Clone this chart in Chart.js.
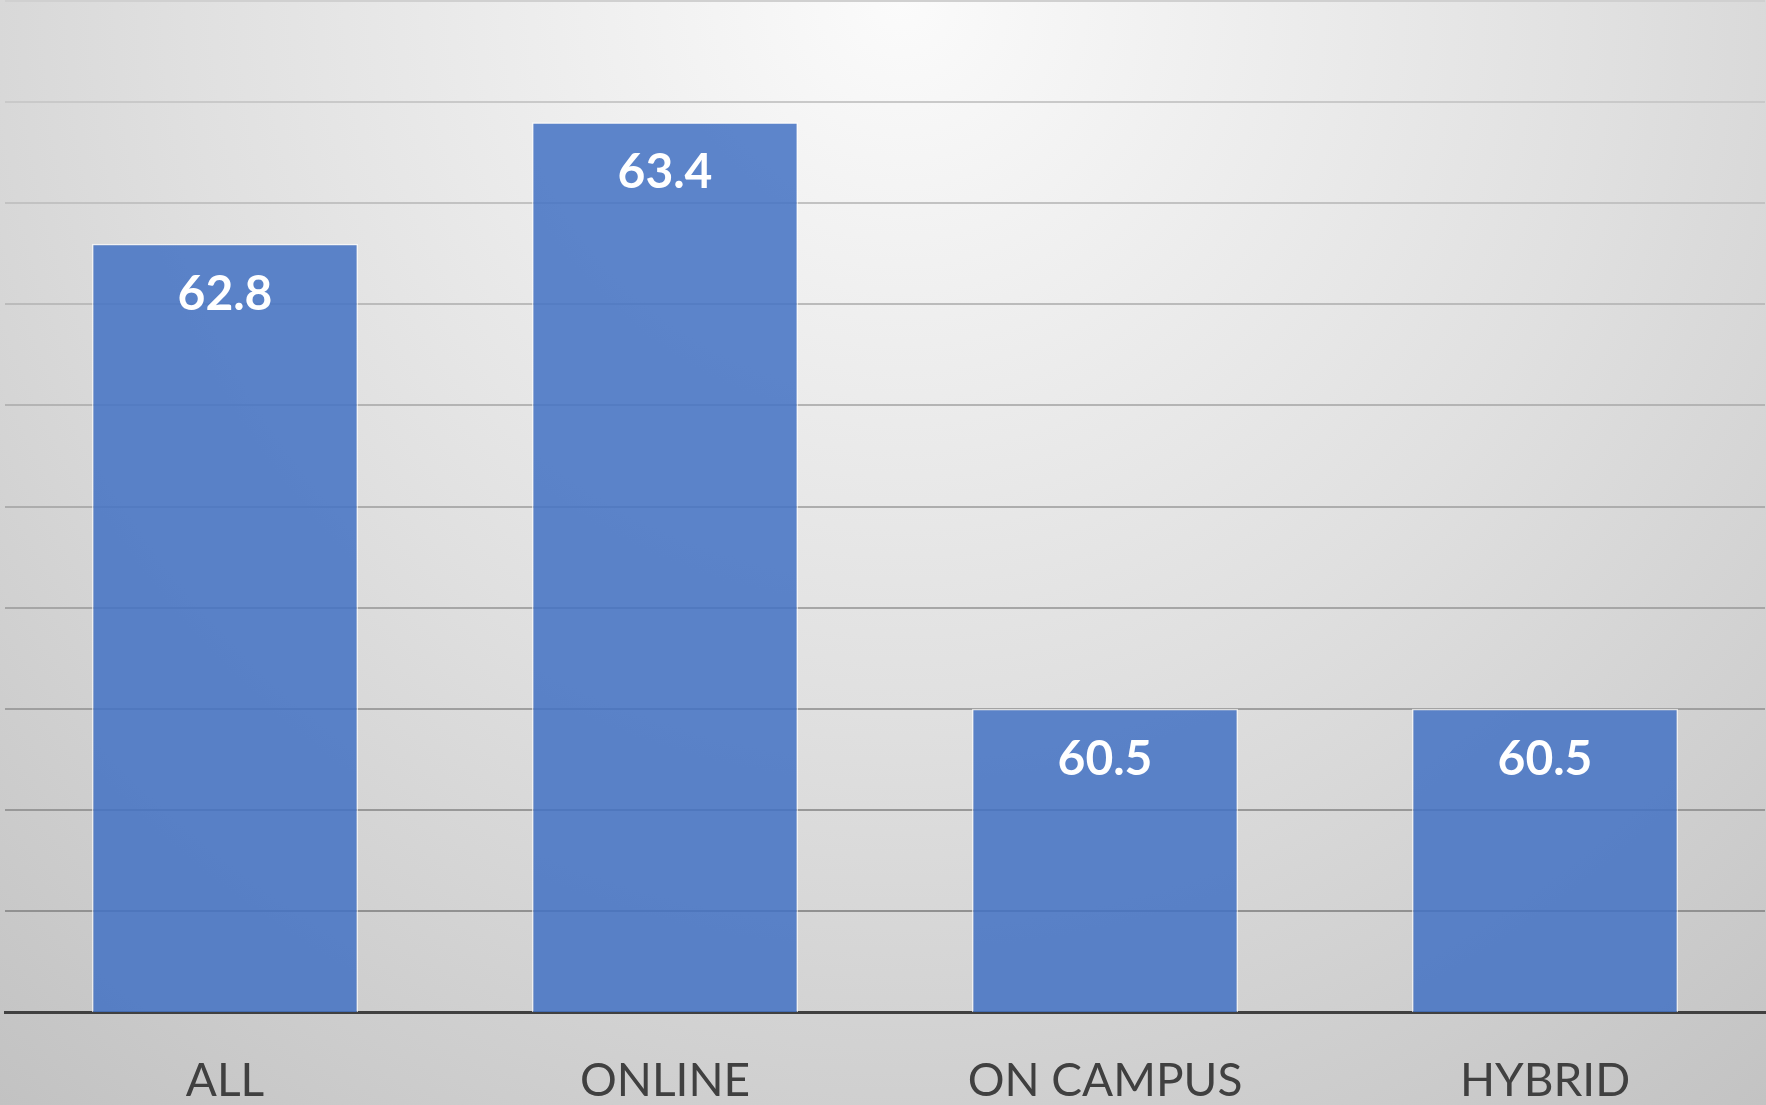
<!DOCTYPE html>
<html>
<head>
<meta charset="utf-8">
<script src="https://cdn.jsdelivr.net/npm/chart.js@4.4.1/dist/chart.umd.min.js"></script>
<style>
  html, body { margin: 0; padding: 0; }
  body {
    width: 1766px; height: 1105px; overflow: hidden;
    background: radial-gradient(circle farthest-corner at 51% 0%, #fbfbfb 0%, #e0e0e0 50%, #c2c2c2 100%);
  }
  #wrap { position: relative; width: 1766px; height: 1105px; }
</style>
</head>
<body>
<div id="wrap"><canvas id="barChart"></canvas></div>
<script>
// chart values
const categories = ["ALL", "ONLINE", "ON CAMPUS", "HYBRID"];
const scores = [62.8, 63.4, 60.5, 60.5];
const yMin = 59;
const yMax = 64;
const yStep = 0.5;

// white value labels just inside the top of each bar
const valueLabels = {
  id: 'valueLabels',
  afterDatasetsDraw(chart) {
    const { ctx } = chart;
    const meta = chart.getDatasetMeta(0);
    ctx.save();
    ctx.font = "bold 48px Lato";
    ctx.fillStyle = "#FFFFFF";
    ctx.textAlign = "center";
    ctx.textBaseline = "alphabetic";
    meta.data.forEach((bar, i) => {
      ctx.fillText(scores[i].toFixed(1), bar.x, bar.y + 66);
    });
    ctx.restore();
  }
};

// gridlines get darker toward the bottom, like the original
function gridColor(c) {
  const t = c.index / 10; // 0 at bottom, 1 at top
  const v = Math.round(138 + (208 - 138) * t);
  return `rgb(${v},${v},${v})`;
}

const ctx = document.getElementById('barChart').getContext('2d');
new Chart(ctx, {
  type: 'bar',
  data: {
    labels: categories,
    datasets: [{
      data: scores,
      backgroundColor: 'rgba(68,114,196,0.86)',
      borderColor: 'rgba(255,255,255,0.65)',
      borderWidth: 1.5,
      categoryPercentage: 1,
      barPercentage: 0.605
    }]
  },
  options: {
    responsive: true,
    maintainAspectRatio: false,
    animation: false,
    layout: { padding: { left: 5, right: 1, top: 1, bottom: 0 } },
    plugins: {
      legend: { display: false },
      tooltip: { enabled: false }
    },
    scales: {
      x: {
        grid: { display: false, drawTicks: false },
        border: { display: true, color: '#404040', width: 3 },
        ticks: {
          color: '#404040',
          font: { family: 'Lato', size: 46 },
          padding: 42
        },
        // the labels hang off the bottom edge in the original
        afterFit(scale) { scale.height = 93; }
      },
      y: {
        min: yMin,
        max: yMax,
        grid: { color: gridColor, lineWidth: 2, drawTicks: false },
        border: { display: false },
        ticks: { display: false, stepSize: yStep }
      }
    }
  },
  plugins: [valueLabels]
});
</script>
</body>
</html>
